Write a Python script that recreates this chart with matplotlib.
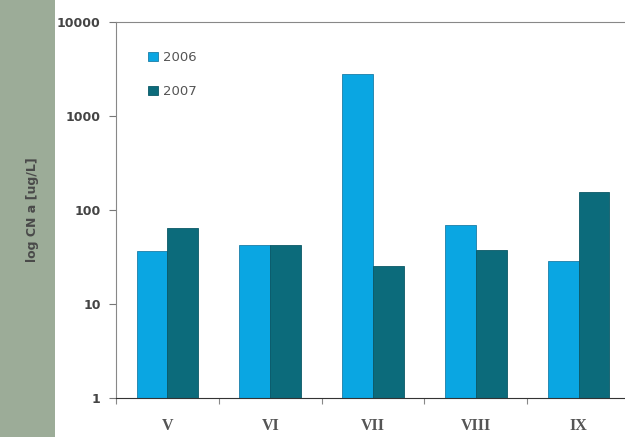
import matplotlib.pyplot as plt
import matplotlib.patches as mpatches
import numpy as np

months = ["V", "VI", "VII", "VIII", "IX"]
cn_2006 = [37, 42, 2800, 70, 29]
cn_2007 = [65, 42, 25.5, 38, 157]
yticks = [1, 10, 100, 1000, 10000]

fig = plt.figure(figsize=(6.25, 4.37), dpi=100)
fig.patch.set_facecolor("white")
# grey-green strip on the left edge
fig.patches.append(mpatches.Rectangle((0, 0), 0.088, 1, transform=fig.transFigure,
                                      facecolor="#9cac98", edgecolor="none", zorder=0))

ax = fig.add_axes([0.1856, 0.0892, 0.8224, 0.8604])
x = np.arange(len(months))
w = 0.3
ax.bar(x - w/2, cn_2006, w, color="#0aa6e2", edgecolor="#1a7ea8", linewidth=0.6, label="2006")
ax.bar(x + w/2, cn_2007, w, color="#0c6b7b", edgecolor="#0a5866", linewidth=0.6, label="2007")

ax.set_yscale("log")
ax.set_ylim(1, 10000)
ax.set_xlim(-0.5, len(months) - 0.5)
ax.set_yticks(yticks)
ax.set_yticklabels([str(v) for v in yticks], fontsize=9, color="#444444", fontweight="bold")
ax.yaxis.set_minor_locator(plt.NullLocator())

ax.set_xticks(np.arange(len(months) + 1) - 0.5)
ax.set_xticklabels([])
ax.set_xticks(x, minor=True)
ax.set_xticklabels(months, minor=True, fontsize=11.5, color="#555555",
                   family="Liberation Serif", fontweight="bold")
ax.tick_params(axis="x", which="minor", length=0, pad=14.5)
ax.tick_params(axis="x", which="major", length=4, color="#888888")
ax.tick_params(axis="y", length=5, color="#777777", pad=6)

ax.spines["right"].set_visible(False)
ax.spines["top"].set_color("#888888")
ax.spines["left"].set_color("#888888")
ax.spines["bottom"].set_color("#333333")

fig.text(0.052, 0.52, "log CN a [ug/L]", rotation=90, ha="center", va="center",
         fontsize=9, color="#4a4a4a", fontweight="bold")

leg = ax.legend(loc="upper left", bbox_to_anchor=(0.04, 0.955), frameon=False,
                handlelength=0.7, handleheight=0.7, handletextpad=0.4,
                labelspacing=1.6, fontsize=9.5)
for t in leg.get_texts():
    t.set_color("#555555")

fig.savefig("out.png", dpi=100)
